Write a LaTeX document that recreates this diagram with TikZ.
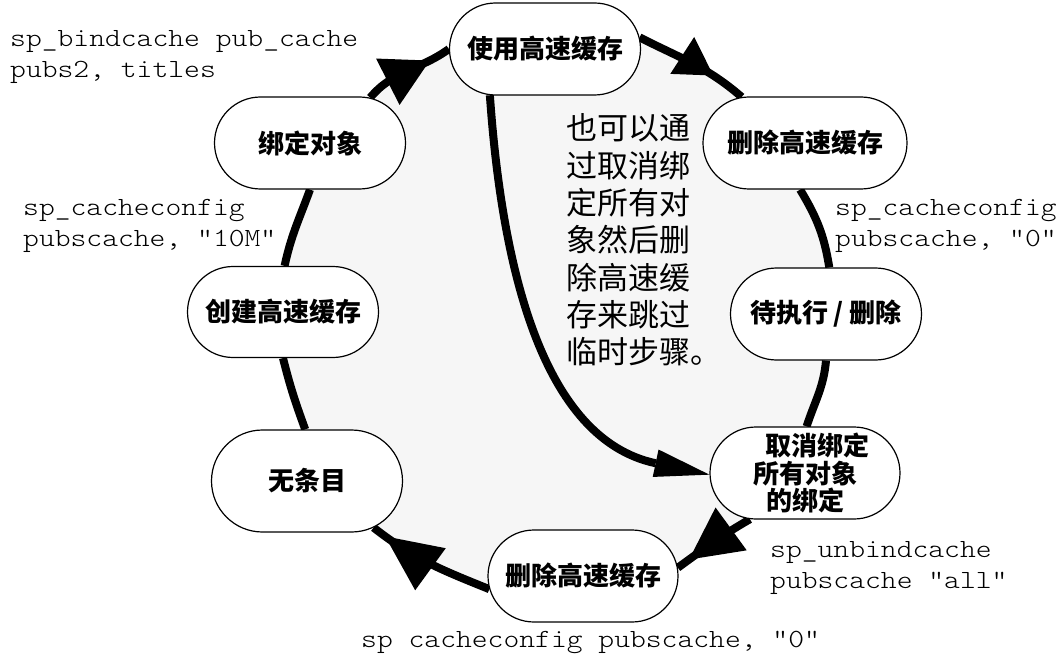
\documentclass[tikz,border=0pt]{standalone}
\usepackage{fontspec}
\usetikzlibrary{shapes.misc,arrows.meta,decorations.markings}
\newfontfamily\cjk{Noto Sans CJK SC}
\newfontfamily\monof{lmmonolt10-regular.otf}[FakeStretch=1.15]
\definecolor{ringfill}{HTML}{F6F6F6}
\pgfdeclarelayer{bg}
\pgfsetlayers{bg,main}
\begin{document}
\begin{tikzpicture}[x=1pt,y=1pt,
  state/.style={rounded rectangle, draw=black, line width=1.2pt, fill=white,
    minimum width=191pt, minimum height=92pt, inner sep=0pt,
    font=\cjk\bfseries\fontsize{26}{27.5}\selectfont, align=center},
  ring/.style={line width=8pt, draw=black},
  arrowat/.style n args={3}{postaction={decorate}, decoration={markings,
    mark=at position #1 with {\arrow{Triangle[length=#2,width=#3,line width=0pt]}}}},
  code/.style={font=\monof\fontsize{26.2}{31}\selectfont, inner sep=0pt, anchor=base west},
  note/.style={font=\cjk\fontsize{31}{37}\selectfont, inner sep=0pt, anchor=base west}
]
\useasboundingbox (0,0) rectangle (1061,-658);
% states
\node[state] (use) at (545,-49) {使用高速缓存};
\node[state, minimum width=204pt] (delTR) at (805,-143) {删除高速缓存};
\node[state] (pend) at (826,-314) {待执行 / 删除};
\node[state, minimum width=190pt] (unbind) at (805,-473) {\hspace*{24pt}取消绑定\\所有对象\hspace*{8pt}\\的绑定};
\node[state, minimum width=190pt] (delB) at (583,-576) {删除高速缓存};
\node[state, minimum height=102pt] (none) at (307,-481) {无条目};
\node[state, minimum height=91pt] (create) at (283,-312) {创建高速缓存};
\node[state] (bind) at (310,-143) {绑定对象};
% ring
\begin{pgfonlayer}{bg}
\fill[ringfill] (bind.37) to[out=50,in=216] (use.180) -- (use.7)
  to[out=-27,in=139] (delTR.144) -- (delTR.264)
  to[out=-59,in=99] (pend.86) -- (pend.270)
  to[out=-95,in=72] (unbind.88) -- (unbind.220)
  to[out=210,in=36] (delB.5) -- (delB.188)
  to[out=158,in=-38] (none.-35) -- (none.92)
  to[out=110,in=-76] (create.270) -- (create.88)
  to[out=78,in=-110] (bind.270) -- cycle;
\draw[ring, arrowat={0.76}{47pt}{52pt}] (bind.37) to[out=50,in=216] (use.180);
\draw[ring, arrowat={0.70}{37pt}{44pt}] (use.7) to[out=-27,in=139] (delTR.144);
\draw[ring] (delTR.264) to[out=-59,in=99] (pend.86);
\draw[ring] (pend.270) to[out=-95,in=72] (unbind.88);
\draw[ring, arrowat={0.84}{52pt}{53pt}] (unbind.220) to[out=210,in=36] (delB.5);
\draw[ring, arrowat={0.89}{56pt}{52pt}] (delB.188) to[out=158,in=-38] (none.-35);
\draw[ring] (none.92) to[out=110,in=-76] (create.270);
\draw[ring] (create.88) to[out=78,in=-110] (bind.270);
\draw[ring, -{Triangle[length=55pt,width=28pt,line width=0pt]}] (use.220) to[out=-86,in=168] (unbind.181);
\end{pgfonlayer}
% texts
\node[note] (skip) at (566,-140) {\begin{tabular}[t]{@{}l@{}}也可以通\\过取消绑\\定所有对\\象然后删\\除高速缓\\存来跳过\\临时步骤。\end{tabular}};
\node[code] (c1) at (10,-47) {\begin{tabular}[t]{@{}l@{}}sp\_bindcache pub\_cache\\pubs2, titles\end{tabular}};
\node[code] (c2) at (23,-215) {\begin{tabular}[t]{@{}l@{}}sp\_cacheconfig\\pubscache, "10M"\end{tabular}};
\node[code] (c3) at (835,-215) {\begin{tabular}[t]{@{}l@{}}sp\_cacheconfig\\pubscache, "0"\end{tabular}};
\node[code] (c4) at (770,-557) {\begin{tabular}[t]{@{}l@{}}sp\_unbindcache\\pubscache "all"\end{tabular}};
\node[code] (c5) at (361,-647) {sp cacheconfig pubscache, "0"};
\end{tikzpicture}
\end{document}
